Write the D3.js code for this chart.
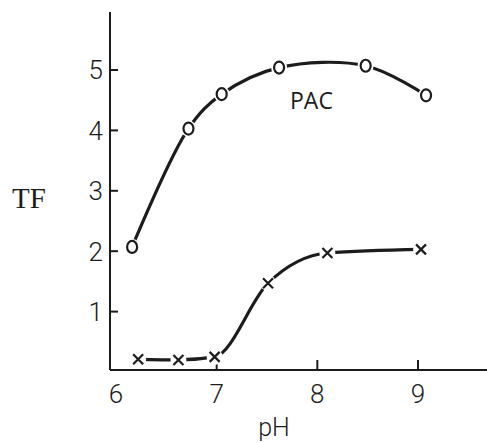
<!DOCTYPE html>
<html>
<head>
<meta charset="utf-8">
<script src="https://cdn.jsdelivr.net/npm/d3@7"></script>
<style>
  body { margin: 0; background: #fff; }
  svg { display: block; }
</style>
</head>
<body>
<svg id="chart"></svg>
<script>
// values
const pacPH = [6.16, 6.72, 7.05, 7.62, 8.48, 9.08];
const pacTF = [2.07, 4.03, 4.6, 5.04, 5.07, 4.58];
const otherPH = [6.22, 6.62, 6.98, 7.51, 8.1, 9.03];
const otherTF = [0.21, 0.2, 0.25, 1.47, 1.97, 2.03];
const xTicks = [6, 7, 8, 9];
const yTicks = [1, 2, 3, 4, 5];

const width = 487;
const height = 443;
const ink = '#1c1c1c';
const tickFont = '"Roboto", sans-serif';

const svg = d3.select('#chart')
              .attr('width', width)
              .attr('height', height);

const xScale = d3.scaleLinear()
                 .domain([6, 9])
                 .range([116, 418]);

const yScale = d3.scaleLinear()
               .domain([0, 5])
               .range([372, 70]);

const pac = pacPH.map((x, i) => ({ x: x, y: pacTF[i] }));
const other = otherPH.map((x, i) => ({ x: x, y: otherTF[i] }));

// PAC bulges over its top points, the lower curve stays flat at the start
const pacLine = d3.line()
                  .x(d => xScale(d.x))
                  .y(d => yScale(d.y))
                  .curve(d3.curveCatmullRom.alpha(0.5));

const otherLine = d3.line()
                    .x(d => xScale(d.x))
                    .y(d => yScale(d.y))
                    .curve(d3.curveMonotoneX);

// axes drawn by hand: the ticks point inward
const axisX = 110;
const axisY = 370;

svg.append('line')
   .attr('x1', axisX).attr('x2', axisX)
   .attr('y1', 12).attr('y2', axisY)
   .attr('stroke', ink).attr('stroke-width', 2);

svg.append('line')
   .attr('x1', axisX).attr('x2', width)
   .attr('y1', axisY).attr('y2', axisY)
   .attr('stroke', ink).attr('stroke-width', 2);

// y ticks
svg.selectAll('.ytick')
   .data(yTicks)
   .enter()
   .append('line')
   .attr('x1', axisX).attr('x2', axisX + 8)
   .attr('y1', d => yScale(d)).attr('y2', d => yScale(d))
   .attr('stroke', ink).attr('stroke-width', 2);

svg.selectAll('.ylab')
   .data(yTicks)
   .enter()
   .append('text')
   .attr('x', 103)
   .attr('y', d => yScale(d))
   .attr('dy', '0.36em')
   .style('text-anchor', 'end')
   .style('font-family', tickFont)
   .style('font-weight', 300)
   .style('font-size', '26px')
   .style('fill', ink)
   .text(d => d);

// x ticks (none at 6, it sits on the axis)
svg.selectAll('.xtick')
   .data(xTicks.filter(d => d > 6))
   .enter()
   .append('line')
   .attr('x1', d => xScale(d)).attr('x2', d => xScale(d))
   .attr('y1', axisY).attr('y2', axisY - 10)
   .attr('stroke', ink).attr('stroke-width', 2);

svg.selectAll('.xlab')
   .data(xTicks)
   .enter()
   .append('text')
   .attr('x', d => xScale(d))
   .attr('y', 403)
   .style('text-anchor', 'middle')
   .style('font-family', tickFont)
   .style('font-weight', 300)
   .style('font-size', '26px')
   .style('fill', ink)
   .text(d => d);

// axis titles
svg.append('text')
   .attr('x', 274)
   .attr('y', 436)
   .style('text-anchor', 'middle')
   .style('font-family', tickFont)
   .style('font-weight', 300)
   .style('font-size', '25px')
   .style('fill', ink)
   .text('pH');

svg.append('text')
   .attr('x', 12)
   .attr('y', 208)
   .style('font-family', '"Liberation Serif", serif')
   .style('font-size', '29px')
   .style('fill', ink)
   .text('TF');

// curves
svg.append('path')
   .datum(pac)
   .attr('fill', 'none')
   .attr('stroke', ink)
   .attr('stroke-width', 3.2)
   .attr('stroke-linecap', 'round')
   .attr('d', pacLine);

svg.append('path')
   .datum(other)
   .attr('fill', 'none')
   .attr('stroke', ink)
   .attr('stroke-width', 3.2)
   .attr('stroke-linecap', 'round')
   .attr('d', otherLine);

// white halos so the line breaks at each marker
svg.selectAll('.halo')
   .data(pac.concat(other))
   .enter()
   .append('circle')
   .attr('cx', d => xScale(d.x))
   .attr('cy', d => yScale(d.y))
   .attr('r', 8)
   .attr('fill', '#fff');

// circle markers
svg.selectAll('.pacpt')
   .data(pac)
   .enter()
   .append('ellipse')
   .attr('cx', d => xScale(d.x))
   .attr('cy', d => yScale(d.y))
   .attr('rx', 5)
   .attr('ry', 6)
   .attr('fill', '#fff')
   .attr('stroke', ink)
   .attr('stroke-width', 2.2);

// cross markers
const s = 5;
const cross = svg.selectAll('.xpt')
                 .data(other)
                 .enter()
                 .append('g')
                 .attr('transform', d => `translate(${xScale(d.x)},${yScale(d.y)})`);

cross.append('path')
     .attr('d', `M${-s},${-s}L${s},${s}M${-s},${s}L${s},${-s}`)
     .attr('stroke', ink)
     .attr('stroke-width', 2.2)
     .attr('fill', 'none');

svg.append('text')
   .attr('x', 290)
   .attr('y', 109)
   .style('font-family', '"Open Sans", sans-serif')
   .style('font-size', '23px')
   .style('fill', ink)
   .text('PAC');
</script>
</body>
</html>
